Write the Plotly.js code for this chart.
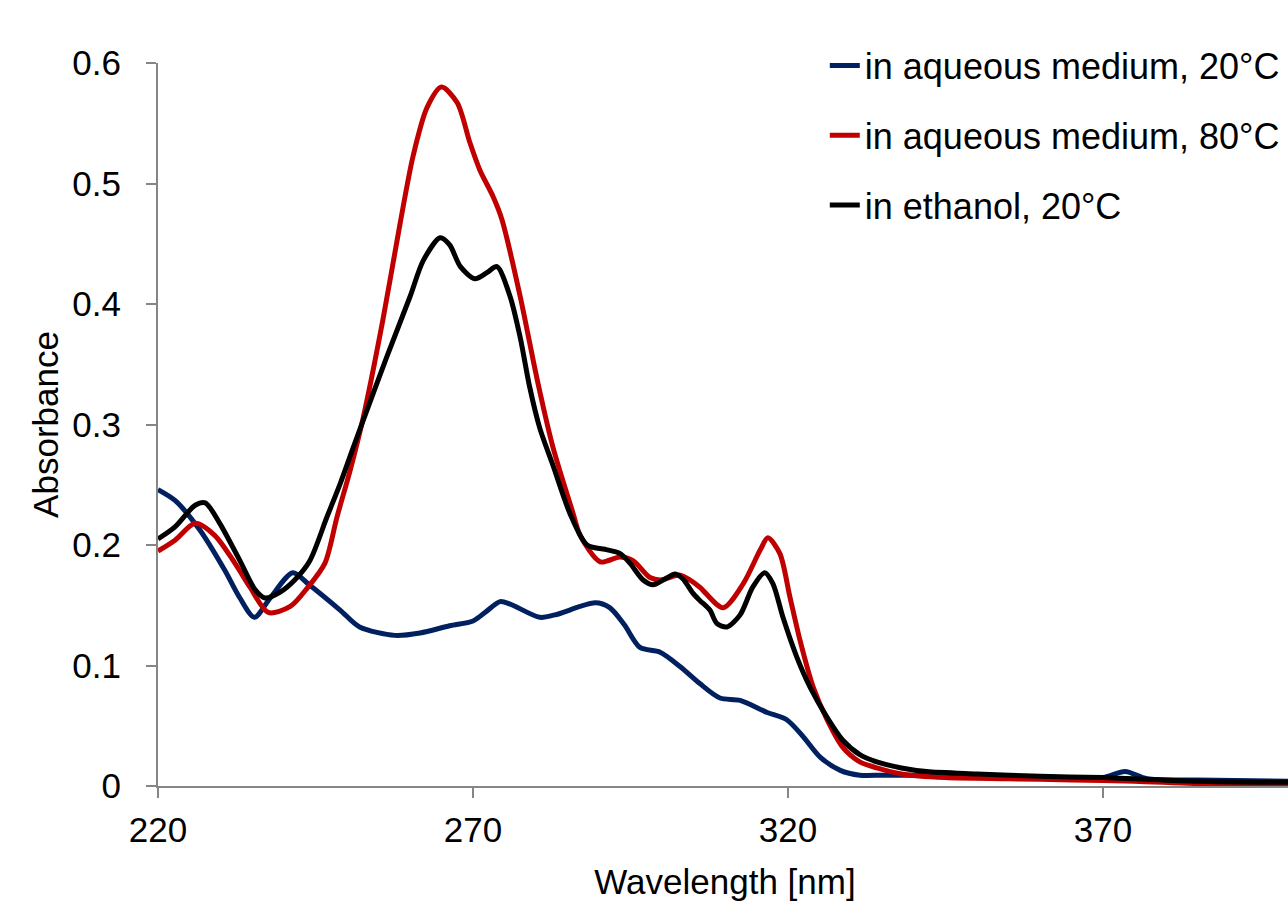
<!DOCTYPE html>
<html>
<head>
<meta charset="utf-8">
<script src="https://cdn.plot.ly/plotly-3.0.1.min.js"></script>
<style>
html,body{margin:0;padding:0;overflow:hidden;background:#fff;}
#chart{width:1300px;height:901px;}
</style>
</head>
<body>
<div id="chart"></div>
<script>
// Series names
const seriesNames = ["in aqueous medium, 20\u00b0C", "in aqueous medium, 80\u00b0C", "in ethanol, 20\u00b0C"];

// Aqueous medium, 20 °C
const waveAq20 = [220, 222.7, 226.7, 230.6, 233, 235.3, 237.8, 241.4, 244, 248.9, 252, 257.6, 261.6, 266.3, 270, 271.9, 274.3, 275.9, 280.6, 283, 289.4, 291.7, 294, 296.5, 299.7, 302.9, 306, 309.2, 312.4, 316.7, 319.8, 322.4, 325.1, 328.3, 331.4, 335, 340, 350, 360, 370, 373.5, 377, 385, 400];
const absAq20 = [0.246, 0.237, 0.212, 0.179, 0.156, 0.140, 0.156, 0.177, 0.167, 0.146, 0.132, 0.125, 0.127, 0.133, 0.137, 0.144, 0.153, 0.151, 0.140, 0.142, 0.152, 0.148, 0.134, 0.115, 0.111, 0.099, 0.085, 0.073, 0.071, 0.061, 0.055, 0.041, 0.024, 0.013, 0.009, 0.009, 0.009, 0.009, 0.007, 0.007, 0.012, 0.006, 0.005, 0.004];

// Aqueous medium, 80 °C
const waveAq80 = [220, 222.7, 225.9, 229, 232.2, 234.6, 237.5, 241, 243.8, 246.5, 248.4, 250.5, 252.5, 255.7, 258.4, 260.5, 262.7, 265, 267.5, 269.5, 271.1, 273.2, 274.6, 277.5, 280.2, 282.7, 285.9, 287, 290.2, 293.3, 295.4, 298.1, 299.7, 302.9, 304.4, 306, 309.7, 312.9, 315.6, 316.8, 318.7, 320.3, 321.9, 324, 326.2, 328.7, 331.4, 334.1, 338, 345, 355, 365, 375, 385, 400];
const absAq80 = [0.195, 0.204, 0.218, 0.208, 0.185, 0.165, 0.144, 0.149, 0.165, 0.185, 0.223, 0.262, 0.304, 0.387, 0.466, 0.523, 0.563, 0.580, 0.567, 0.534, 0.511, 0.489, 0.470, 0.406, 0.337, 0.281, 0.226, 0.208, 0.186, 0.190, 0.187, 0.173, 0.171, 0.175, 0.171, 0.165, 0.148, 0.168, 0.196, 0.206, 0.193, 0.157, 0.121, 0.082, 0.055, 0.032, 0.020, 0.015, 0.010, 0.007, 0.006, 0.005, 0.004, 0.002, 0.001];

// Ethanol, 20 °C
const waveEtOH = [220, 222.7, 225.9, 227.5, 229.8, 233, 235.4, 237, 239.4, 241.7, 244.1, 246.8, 249, 251, 253.6, 256.3, 260, 262.1, 264.8, 266.3, 268, 270.3, 272.2, 273.8, 275.9, 277.5, 279, 280.6, 282.7, 285.4, 288.1, 291.3, 293.3, 294.9, 297, 298.6, 300.2, 302.1, 303.3, 304.9, 306, 307.6, 308.7, 310.3, 312.4, 314.4, 316.3, 317.6, 319.2, 321.4, 323.5, 326.2, 328.7, 331.4, 334.1, 338, 342, 350, 360, 370, 375, 385, 400];
const absEtOH = [0.205, 0.215, 0.233, 0.235, 0.218, 0.187, 0.163, 0.156, 0.161, 0.171, 0.187, 0.223, 0.252, 0.281, 0.318, 0.356, 0.406, 0.436, 0.455, 0.449, 0.431, 0.421, 0.426, 0.431, 0.406, 0.372, 0.331, 0.297, 0.266, 0.226, 0.200, 0.196, 0.193, 0.185, 0.171, 0.167, 0.171, 0.176, 0.172, 0.160, 0.154, 0.146, 0.135, 0.132, 0.142, 0.165, 0.177, 0.168, 0.140, 0.107, 0.082, 0.057, 0.038, 0.026, 0.020, 0.015, 0.012, 0.010, 0.008, 0.007, 0.006, 0.004, 0.003];

// Axis ticks
const xTicks = [220, 270, 320, 370];
const yTicks = [0, 0.1, 0.2, 0.3, 0.4, 0.5, 0.6];
const yTickText = ["0", "0.1", "0.2", "0.3", "0.4", "0.5", "0.6"];

const colors = ["#002060", "#C00000", "#000000"];
const FONT = "Liberation Sans, Arial, sans-serif";

function mk(x, y, i) {
  return {
    x: x, y: y, type: "scatter", mode: "lines", name: seriesNames[i],
    legendgroup: "g" + i,
    line: {color: colors[i], width: 5, shape: "spline", smoothing: 0.8},
    hoverinfo: "skip"
  };
}

const data = [mk(waveAq20, absAq20, 0), mk(waveAq80, absAq80, 1), mk(waveEtOH, absEtOH, 2)];

const layout = {
  width: 1300, height: 901,
  margin: {l: 158, r: 8, t: 63, b: 115},
  paper_bgcolor: "#fff", plot_bgcolor: "#fff",
  font: {family: FONT, size: 35, color: "#000"},
  showlegend: true,
  legend: {
    x: 0.588, xanchor: "left", y: 1.038, yanchor: "top",
    font: {family: FONT, size: 36, color: "#000"},
    tracegroupgap: 20, bgcolor: "rgba(0,0,0,0)", borderwidth: 0,
    traceorder: "grouped"
  },
  xaxis: {
    range: [220, 400], tickmode: "array", tickvals: xTicks, ticktext: xTicks.map(String),
    showgrid: false, zeroline: false, showline: true, linecolor: "#868686", linewidth: 2,
    ticks: "outside", ticklen: 10, tickwidth: 2, tickcolor: "#868686",
    ticklabelstandoff: 2,
    tickfont: {family: FONT, size: 35, color: "#000"},
    title: {text: "Wavelength [nm]", font: {family: FONT, size: 35, color: "#000"}, standoff: 26},
    automargin: false
  },
  yaxis: {
    range: [0, 0.6], tickmode: "array", tickvals: yTicks, ticktext: yTickText,
    showgrid: false, zeroline: false, showline: true, linecolor: "#868686", linewidth: 2,
    ticks: "outside", ticklen: 10, tickwidth: 2, tickcolor: "#868686",
    ticklabelstandoff: 18,
    tickfont: {family: FONT, size: 35, color: "#000"},
    title: {text: "Absorbance", font: {family: FONT, size: 35, color: "#000"}, standoff: 3},
    automargin: false
  }
};

Plotly.newPlot("chart", data, layout, {displayModeBar: false, staticPlot: true});
</script>
</body>
</html>
